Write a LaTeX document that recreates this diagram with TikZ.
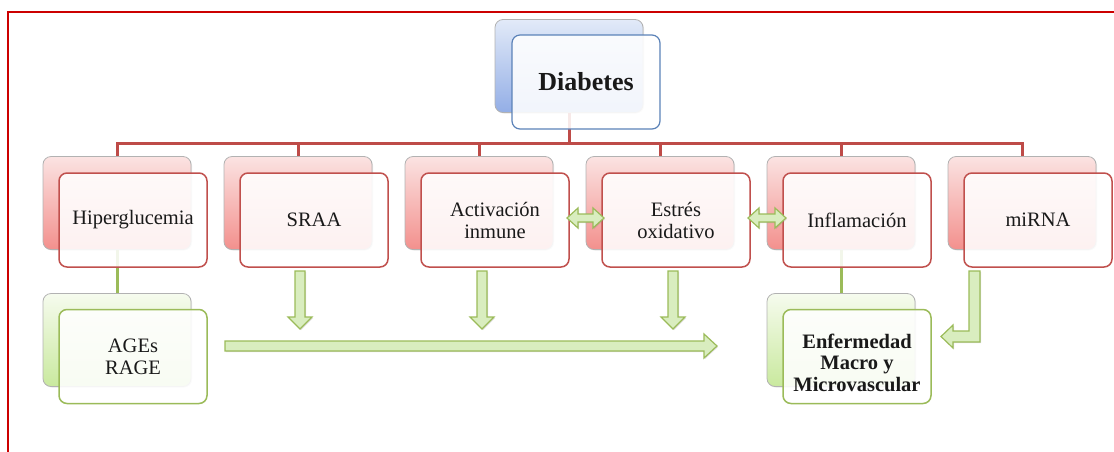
\documentclass[tikz,border=0pt]{standalone}
\usepackage{fontspec}
\setmainfont{Liberation Serif}
\usetikzlibrary{shadows,backgrounds}

\definecolor{framered}{HTML}{CC0000}
\definecolor{busred}{HTML}{BE4B48}
\definecolor{boxred}{HTML}{C0504D}
\definecolor{pinktop}{HTML}{FBE3E2}
\definecolor{pinkbot}{HTML}{F3908D}
\definecolor{bluetop}{HTML}{E2EAF8}
\definecolor{bluebot}{HTML}{93AEE6}
\definecolor{boxblue}{HTML}{5B82B8}
\definecolor{greentop}{HTML}{F6FBEE}
\definecolor{greenbot}{HTML}{C9E99E}
\definecolor{boxgreen}{HTML}{9BBB59}
\definecolor{arrowfill}{HTML}{D9EDBF}

% block arrows: a down arrow (centre x, top y, tip y)
\newcommand\blockdown[3]{%
  \draw[blockarrow] (#1-5,#2) -- (#1+5,#2) -- (#1+5,#3-12) -- (#1+12,#3-12)
    -- (#1,#3) -- (#1-12,#3-12) -- (#1-5,#3-12) -- cycle;}
% double-headed horizontal arrow (left tip x, right tip x, centre y)
\newcommand\blockboth[3]{%
  \draw[blockarrow] (#1,#3) -- (#1+11,#3-10) -- (#1+11,#3-4) -- (#2-11,#3-4)
    -- (#2-11,#3-10) -- (#2,#3) -- (#2-11,#3+10) -- (#2-11,#3+4)
    -- (#1+11,#3+4) -- (#1+11,#3+10) -- cycle;}

\begin{document}
\begin{tikzpicture}[x=1pt,y=-1pt,
  backbox/.style={draw=black!30, line width=0.8pt, rounded corners=8pt,
    minimum width=148pt, minimum height=93pt, inner sep=0pt,
    drop shadow={opacity=0.2, shadow xshift=1pt, shadow yshift=-1pt}},
  redback/.style={backbox, top color=pinktop, bottom color=pinkbot},
  blueback/.style={backbox, top color=bluetop, bottom color=bluebot},
  greenback/.style={backbox, top color=greentop, bottom color=greenbot},
  frontbox/.style={rounded corners=8pt, minimum width=148pt, minimum height=94pt,
    inner sep=2pt, line width=1.5pt, fill=white, fill opacity=0.88,
    text opacity=1, align=center, text=black!90,
    font=\fontsize{20.5}{22}\selectfont},
  redfront/.style={frontbox, draw=boxred},
  bluefront/.style={frontbox, draw=boxblue, line width=1.2pt},
  greenfront/.style={frontbox, draw=boxgreen},
  bus/.style={draw=busred, line width=3pt},
  glink/.style={draw=boxgreen, line width=3pt},
  blockarrow/.style={draw=boxgreen, fill=arrowfill, line width=1.2pt,
    line join=miter,
    drop shadow={opacity=0.25, shadow xshift=1pt, shadow yshift=-1pt}}
]
\useasboundingbox (0,0) rectangle (1114,451);

% outer frame
\draw[framered, line width=2.5pt] (8,452) -- (8,12) -- (1115,12);

% root
\node[blueback] (diaB) at (569,66) {};
\node[bluefront, font=\fontsize{26}{28}\selectfont\bfseries] (dia) at (586,82) {Diabetes};

% first row: back cards
\node[redback] (hipB)  at (117,203) {};
\node[redback] (sraaB) at (298,203) {};
\node[redback] (actB)  at (479,203) {};
\node[redback] (estB)  at (660,203) {};
\node[redback] (infB)  at (841,203) {};
\node[redback] (mirB)  at (1022,203) {};

% second row: back cards
\node[greenback] (agesB) at (117,340) {};
\node[greenback] (enfB)  at (841,340) {};

% tree connectors behind the cards
\begin{scope}[on background layer]
  \coordinate (bus) at (0,143);
  \draw[bus] (diaB.south) -- (diaB.south |- bus);
  \draw[bus] (hipB.north) -- (hipB.north |- bus) -- (mirB.north |- bus) -- (mirB.north);
  \foreach \n in {sraaB,actB,estB,infB}
    \draw[bus] (\n.north) -- (\n.north |- bus);
  \draw[glink] (hipB.south) -- (agesB.north);
  \draw[glink] (infB.south) -- (enfB.north);
\end{scope}

% first row: front cards
\node[redfront] (hip)  at (133,220) {Hiperglucemia};
\node[redfront] (sraa) at (314,220) {SRAA};
\node[redfront] (act)  at (495,220) {Activación\\inmune};
\node[redfront] (est)  at (676,220) {Estrés\\oxidativo};
\node[redfront] (inf)  at (857,220) {Inflamación};
\node[redfront] (mir)  at (1038,220) {miRNA};

% second row: front cards
\node[greenfront] (ages) at (133,356.5) {AGEs\\RAGE};
\node[greenfront,
  label={[name=enfT, font=\fontsize{20.5}{21.5}\selectfont\bfseries,
          align=center, text=black!90, yshift=-6pt]center:Enfermedad\\Macro y\\Microvascular}]
  (enf) at (857,356.5) {};

% block arrows
\blockdown{300}{271}{329}
\blockdown{482}{271}{329}
\blockdown{673}{271}{329}
\draw[blockarrow] (225,341) -- (704,341) -- (704,334) -- (717,346)
  -- (704,358) -- (704,351) -- (225,351) -- cycle;
\draw[blockarrow] (969,271) -- (980,271) -- (980,342) -- (953,342) -- (953,348)
  -- (941,336.5) -- (953,325) -- (953,331) -- (969,331) -- cycle;
\blockboth{567}{604}{218}
\blockboth{748}{786}{218}
\end{tikzpicture}
\end{document}
